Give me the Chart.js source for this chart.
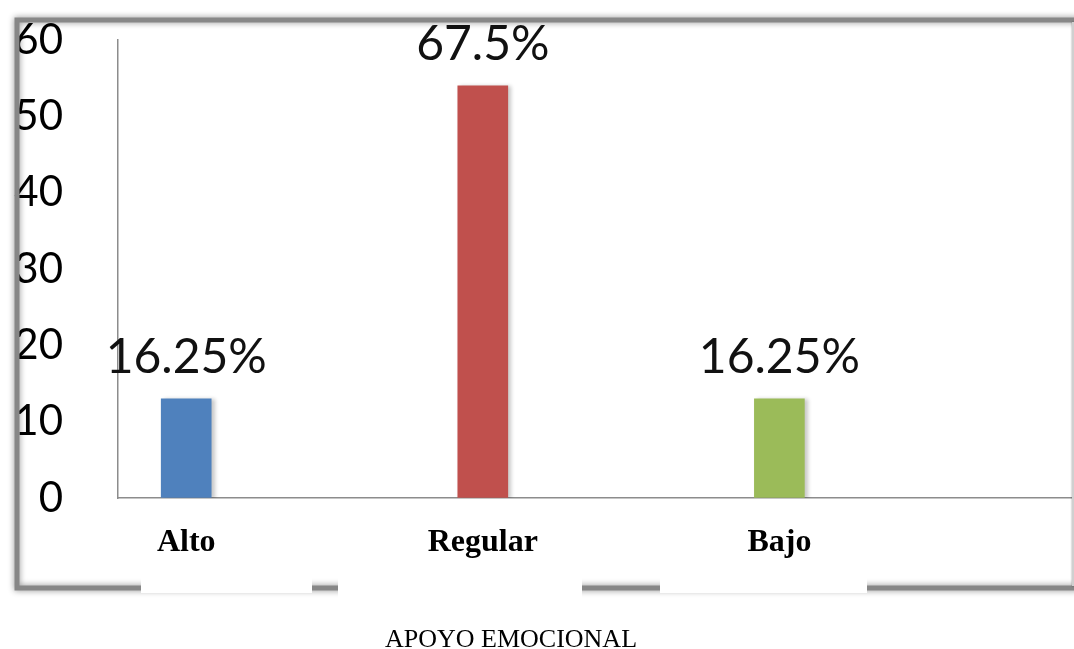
<!DOCTYPE html>
<html>
<head>
<meta charset="utf-8">
<script src="https://cdn.jsdelivr.net/npm/chart.js@4/dist/chart.umd.min.js"></script>
<style>
  html, body { margin: 0; padding: 0; background: #fff; }
  #wrap { width: 1074px; height: 649px; position: relative; }
</style>
</head>
<body>
<div id="wrap"><canvas id="myChart" width="1074" height="649"></canvas></div>
<script>
// data
let categories = ['Alto', 'Regular', 'Bajo'];
let counts = [13, 54, 13];
let pctLabels = ['16.25%', '67.5%', '16.25%'];
let barColors = ['#4f81bd', '#c0504d', '#9bbb59'];
let yTicks = [0, 10, 20, 30, 40, 50, 60];
let axisTitle = 'APOYO EMOCIONAL';

// bars as {x, y} so the category centres can sit where the original had them
let points = categories.map(function(c, i) {
    return { x: i, y: counts[i] };
});

// shadow on the bars (light grey to the right, like the office chart)
let barShadow = {
    id: 'barShadow',
    beforeDatasetsDraw(chart) {
        let ctx = chart.ctx;
        ctx.save();
        ctx.shadowColor = 'rgba(0,0,0,0.22)';
        ctx.shadowBlur = 4;
        ctx.shadowOffsetX = 3;
        ctx.shadowOffsetY = 1;
    },
    afterDatasetsDraw(chart) {
        chart.ctx.restore();
    }
};

// percentage labels above each bar
let pctPlugin = {
    id: 'pctPlugin',
    afterDatasetsDraw(chart) {
        let ctx = chart.ctx;
        let meta = chart.getDatasetMeta(0);
        ctx.save();
        ctx.font = '48px Lato';
        ctx.fillStyle = '#111';
        ctx.textAlign = 'center';
        ctx.textBaseline = 'middle';
        meta.data.forEach(function(bar, i) {
            ctx.fillText(pctLabels[i], bar.x, bar.y - 41);
        });
        ctx.restore();
    }
};

// grey shadowed frame round the picture, white patches on the bottom edge, and the caption under it
let framePlugin = {
    id: 'framePlugin',
    afterDraw(chart) {
        let ctx = chart.ctx;
        ctx.save();
        ctx.shadowColor = 'rgba(0,0,0,0.45)';
        ctx.shadowBlur = 6;
        ctx.strokeStyle = '#878787';
        ctx.lineWidth = 5;
        ctx.beginPath();
        ctx.moveTo(1080, 20);
        ctx.lineTo(17, 20);
        ctx.lineTo(17, 588);
        ctx.lineTo(1080, 588);
        ctx.stroke();
        ctx.shadowBlur = 2;
        ctx.strokeStyle = '#d0d0d0';
        ctx.lineWidth = 2;
        ctx.beginPath();
        ctx.moveTo(1073, 22);
        ctx.lineTo(1073, 586);
        ctx.stroke();
        ctx.restore();
        ctx.save();
        ctx.fillStyle = '#fff';
        ctx.fillRect(141, 578, 171, 15);
        ctx.fillRect(338, 578, 244, 22);
        ctx.fillRect(660, 578, 207, 15);
        ctx.fillStyle = '#000';
        ctx.font = "26px 'Liberation Serif'";
        ctx.textAlign = 'center';
        ctx.textBaseline = 'alphabetic';
        ctx.fillText(axisTitle, 511, 647);
        ctx.restore();
    }
};

var ctx = document.getElementById('myChart').getContext('2d');
var chart = new Chart(ctx, {
    type: 'bar',
    data: {
        datasets: [{
            data: points,
            backgroundColor: barColors,
            borderWidth: 0,
            barThickness: 50
        }]
    },
    options: {
        responsive: false,
        animation: false,
        layout: { padding: { top: 40, left: 0, right: 1, bottom: 0 } },
        plugins: {
            legend: { display: false },
            tooltip: { enabled: false },
            title: { display: false }
        },
        scales: {
            x: {
                type: 'linear',
                offset: false,
                min: -0.23,
                max: 2.99,
                grid: { display: false, drawTicks: false, offset: false },
                border: { display: true, color: '#8c8c8c', width: 1.5 },
                afterBuildTicks: function(scale) {
                    scale.ticks = categories.map(function(c, i) { return { value: i }; });
                },
                afterFit: function(scale) { scale.height = 151; },
                ticks: {
                    autoSkip: false,
                    maxRotation: 0,
                    padding: 26,
                    color: '#000',
                    font: { family: "'Liberation Serif'", size: 32, weight: 'bold' },
                    callback: function(v) { return categories[v]; }
                }
            },
            y: {
                min: 0,
                max: 60,
                // invisible tick marks give the gap between the numbers and the axis line
                grid: { display: true, drawOnChartArea: false, drawTicks: true, tickLength: 55, color: 'rgba(0,0,0,0)' },
                border: { display: true, color: '#8c8c8c', width: 1.5 },
                afterBuildTicks: function(scale) {
                    scale.ticks = yTicks.map(function(v) { return { value: v }; });
                },
                afterFit: function(scale) { scale.width = 118; },
                ticks: {
                    padding: 0,
                    color: '#000',
                    font: { family: 'Lato', size: 42 }
                }
            }
        }
    },
    plugins: [barShadow, pctPlugin, framePlugin]
});
</script>
</body>
</html>
